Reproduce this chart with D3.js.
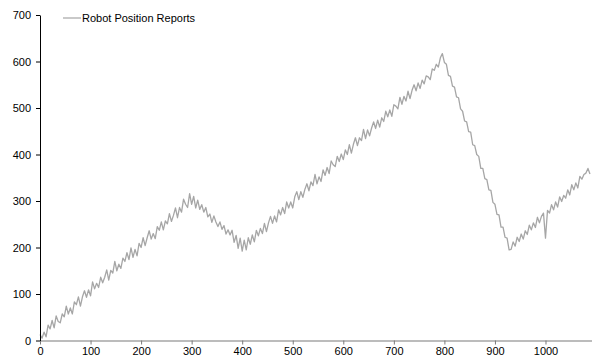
<!DOCTYPE html>
<html>
<head>
<meta charset="utf-8">
<script src="https://cdn.jsdelivr.net/npm/d3@7"></script>
<style>
  html, body { margin: 0; padding: 0; background: #fff; }
  svg { display: block; font-family: "Liberation Sans", Arial, Helvetica, sans-serif; }
</style>
</head>
<body>
<svg id="chart" width="592" height="360"></svg>
<script>
// ---- data ----
const seriesName = "Robot Position Reports";
const xStep = 4; // spacing between successive reports
const positions = [
  13, 5, 18, 8, 33, 25, 43, 27, 53, 41,
  38, 57, 51, 74, 57, 70, 57, 83, 77, 94,
  74, 94, 107, 93, 109, 96, 126, 111, 123, 114,
  136, 124, 136, 152, 130, 151, 145, 170, 150, 164,
  155, 177, 170, 189, 174, 199, 179, 196, 182, 209,
  200, 221, 204, 221, 236, 218, 230, 219, 245, 237,
  255, 238, 257, 251, 273, 256, 269, 285, 264, 286,
  276, 304, 293, 286, 316, 293, 310, 285, 302, 282,
  292, 276, 286, 266, 272, 254, 268, 255, 245, 255,
  239, 247, 229, 238, 227, 237, 211, 226, 198, 220,
  192, 216, 195, 221, 207, 227, 212, 237, 225, 241,
  230, 252, 234, 253, 267, 252, 268, 255, 281, 270,
  286, 273, 298, 285, 298, 285, 309, 320, 303, 320,
  308, 325, 337, 322, 341, 333, 357, 337, 352, 342,
  367, 355, 372, 359, 386, 378, 374, 396, 385, 401,
  389, 410, 400, 421, 403, 422, 436, 419, 436, 430,
  454, 434, 453, 440, 457, 470, 456, 474, 459, 479,
  471, 493, 481, 496, 482, 507, 504, 498, 523, 508,
  525, 515, 536, 520, 538, 550, 537, 554, 542, 560,
  552, 569, 567, 561, 584, 581, 594, 588, 608, 617,
  598, 594, 570, 568, 547, 545, 524, 522, 498, 493,
  472, 470, 449, 448, 421, 419, 400, 396, 370, 370,
  348, 346, 324, 323, 297, 293, 271, 270, 244, 244,
  222, 220, 195, 196, 212, 203, 222, 213, 229, 218,
  236, 228, 248, 238, 253, 243, 265, 253, 267, 274,
  220, 280, 274, 292, 281, 298, 287, 309, 299, 312,
  306, 324, 313, 335, 324, 339, 328, 353, 347, 357,
  360, 370, 358
];
const xTicks = [0, 100, 200, 300, 400, 500, 600, 700, 800, 900, 1000];
const yTicks = [0, 100, 200, 300, 400, 500, 600, 700];
const xMax = 1092;
const yMax = 700;

// ---- layout ----
const svg = d3.select("#chart");
const mLeft = 40, mRight = 592, mTop = 15, mBottom = 340.5;

const x = d3.scaleLinear().domain([0, xMax]).range([mLeft, mRight]);
const y = d3.scaleLinear().domain([0, yMax]).range([mBottom, mTop]);

const data = positions.map((v, i) => ({ x: i * xStep, y: v }));

// line
svg.append("path")
  .datum(data)
  .attr("fill", "none")
  .attr("stroke", "#a6a6a6")
  .attr("stroke-width", 1.3)
  .attr("stroke-linejoin", "round")
  .attr("d", d3.line().x(d => x(d.x)).y(d => y(d.y)));

// x axis
const gx = svg.append("g")
  .attr("transform", `translate(0,${mBottom})`)
  .call(d3.axisBottom(x).tickValues(xTicks).tickFormat(d3.format("d"))
    .tickSize(4).tickSizeOuter(0).tickPadding(3));
gx.select(".domain").attr("stroke", "#7a7a7a").attr("stroke-width", 1.2);
gx.selectAll(".tick line").attr("stroke", "#7a7a7a");
gx.selectAll("text").attr("font-size", 11).attr("fill", "#000")
  .attr("font-family", "'Liberation Sans', Arial, sans-serif");

// y axis
const gy = svg.append("g")
  .attr("transform", `translate(${mLeft},0)`)
  .call(d3.axisLeft(y).tickValues(yTicks).tickFormat(d3.format("d"))
    .tickSize(4).tickSizeOuter(0).tickPadding(5));
gy.select(".domain").attr("stroke", "#000").attr("stroke-width", 1);
gy.selectAll(".tick line").attr("stroke", "#000");
gy.selectAll("text").attr("font-size", 11).attr("fill", "#000")
  .attr("font-family", "'Liberation Sans', Arial, sans-serif");

// legend
const lg = svg.append("g").attr("transform", "translate(63,18)");
lg.append("line").attr("x1", 0).attr("x2", 18).attr("y1", 0).attr("y2", 0)
  .attr("stroke", "#a6a6a6").attr("stroke-width", 1.2);
lg.append("text").attr("x", 19).attr("y", 4)
  .attr("font-size", 11).attr("fill", "#000")
  .text(seriesName);
</script>
</body>
</html>
